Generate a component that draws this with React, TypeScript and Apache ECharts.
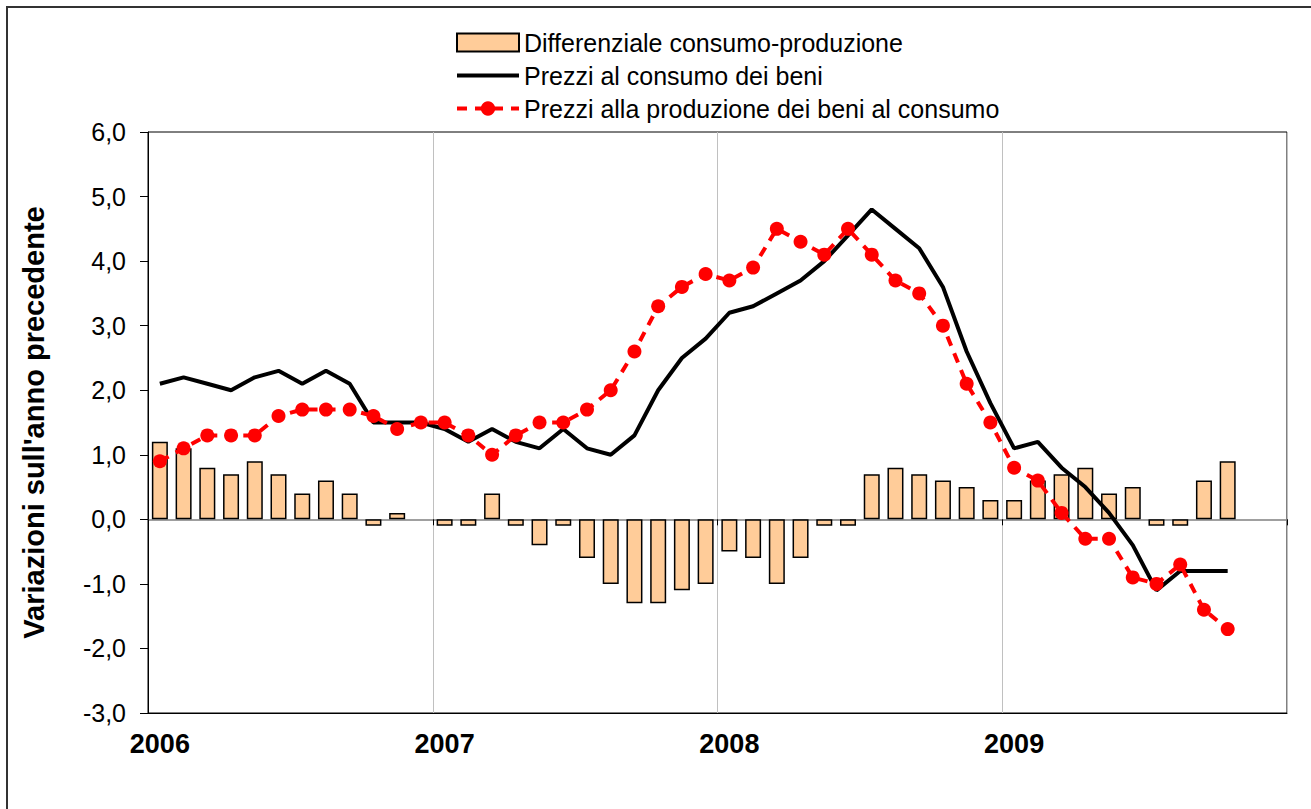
import React, { useEffect, useRef } from "react";
import * as echarts from "echarts";

const years = ["2006", "2007", "2008", "2009"];
const months = ["01", "02", "03", "04", "05", "06", "07", "08", "09", "10", "11", "12"];
const categories: string[] = [];
years.forEach((y) => months.forEach((m) => categories.push(y + "-" + m)));

const yTicks = [-3, -2, -1, 0, 1, 2, 3, 4, 5, 6];

const differenziale = [
  1.2, 1.1, 0.8, 0.7, 0.9, 0.7, 0.4, 0.6, 0.4, -0.1, 0.1, 0.0,
  -0.1, -0.1, 0.4, -0.1, -0.4, -0.1, -0.6, -1.0, -1.3, -1.3, -1.1, -1.0,
  -0.5, -0.6, -1.0, -0.6, -0.1, -0.1, 0.7, 0.8, 0.7, 0.6, 0.5, 0.3,
  0.3, 0.6, 0.7, 0.8, 0.4, 0.5, -0.1, -0.1, 0.6, 0.9,
];

const consumo = [
  2.1, 2.2, 2.1, 2.0, 2.2, 2.3, 2.1, 2.3, 2.1, 1.5, 1.5, 1.5,
  1.4, 1.2, 1.4, 1.2, 1.1, 1.4, 1.1, 1.0, 1.3, 2.0, 2.5, 2.8,
  3.2, 3.3, 3.5, 3.7, 4.0, 4.4, 4.8, 4.5, 4.2, 3.6, 2.6, 1.8,
  1.1, 1.2, 0.8, 0.5, 0.1, -0.4, -1.1, -0.8, -0.8, -0.8,
];

const produzione = [
  0.9, 1.1, 1.3, 1.3, 1.3, 1.6, 1.7, 1.7, 1.7, 1.6, 1.4, 1.5,
  1.5, 1.3, 1.0, 1.3, 1.5, 1.5, 1.7, 2.0, 2.6, 3.3, 3.6, 3.8,
  3.7, 3.9, 4.5, 4.3, 4.1, 4.5, 4.1, 3.7, 3.5, 3.0, 2.1, 1.5,
  0.8, 0.6, 0.1, -0.3, -0.3, -0.9, -1.0, -0.7, -1.4, -1.7,
];

const FONT = "'Liberation Sans', Arial, sans-serif";

export default function App() {
  const ref = useRef<HTMLDivElement>(null);
  useEffect(() => {
    if (!ref.current) return;
    const chart = echarts.init(ref.current, null, { renderer: "svg" });
    const yearStart = (i: number) => i % 12 === 0;
    const barData = differenziale.map((v) =>
      v === 0 ? { value: v, itemStyle: { borderWidth: 0 } } : v
    );
    chart.setOption({
      animation: false,
      backgroundColor: "#ffffff",
      textStyle: { fontFamily: FONT },
      graphic: [
        {
          type: "rect",
          shape: { x: 7, y: 7, width: 1320, height: 820 },
          style: { fill: "none", stroke: "#333333", lineWidth: 2 },
          silent: true,
          z: 0,
        },
      ],
      legend: {
        orient: "vertical",
        left: 450,
        top: 25,
        itemWidth: 62,
        itemHeight: 18,
        itemGap: 8,
        textStyle: { fontSize: 25, color: "#000", fontFamily: FONT, lineHeight: 25 },
        data: [
          { name: "Differenziale consumo-produzione", icon: "rect" },
          {
            name: "Prezzi al consumo dei beni",
            itemStyle: { opacity: 0 },
            lineStyle: { width: 4, color: "#000", type: "solid" },
          },
          {
            name: "Prezzi alla produzione dei beni al consumo",
            lineStyle: { width: 4, color: "#FF0000", type: [10, 8] },
          },
        ],
      },
      grid: {
        left: 148,
        top: 132,
        width: 1139,
        height: 581,
        show: true,
        borderColor: "#000",
        borderWidth: 1,
        backgroundColor: "transparent",
      },
      xAxis: [
        {
          type: "category",
          data: categories,
          boundaryGap: true,
          position: "bottom",
          axisLine: { onZero: false, lineStyle: { color: "#000", width: 1 } },
          axisTick: { show: false },
          axisLabel: {
            interval: (i: number) => yearStart(i),
            formatter: (v: string) => v.slice(0, 4),
            fontSize: 27,
            fontWeight: "bold",
            color: "#000",
            margin: 17,
            fontFamily: FONT,
          },
          splitLine: {
            show: true,
            interval: (i: number) => yearStart(i),
            lineStyle: { color: "#c0c0c0", width: 1 },
          },
        },
        {
          type: "category",
          data: categories,
          boundaryGap: true,
          position: "bottom",
          axisLine: { onZero: true, lineStyle: { color: "#808080", width: 1.5 } },
          axisTick: {
            show: true,
            interval: (i: number) => yearStart(i),
            length: 6,
            lineStyle: { color: "#000", width: 1 },
          },
          axisLabel: { show: false },
          splitLine: { show: false },
        },
      ],
      yAxis: {
        type: "value",
        min: yTicks[0],
        max: yTicks[yTicks.length - 1],
        interval: 1,
        name: "Variazioni sull'anno precedente",
        nameLocation: "middle",
        nameGap: 100,
        nameRotate: 90,
        nameTextStyle: { fontSize: 29, fontWeight: "bold", color: "#000", fontFamily: FONT },
        axisLine: { show: true, lineStyle: { color: "#000", width: 1 } },
        axisTick: { show: true, length: 8, lineStyle: { color: "#000" } },
        axisLabel: {
          fontSize: 25,
          color: "#000",
          margin: 22,
          fontFamily: FONT,
          formatter: (v: number) => v.toFixed(1).replace(".", ","),
        },
        splitLine: { show: false },
      },
      series: [
        {
          name: "Differenziale consumo-produzione",
          type: "bar",
          xAxisIndex: 1,
          data: barData,
          barWidth: 16,
          itemStyle: { color: "#FFCC99", borderColor: "#000", borderWidth: 1.5 },
          z: 2,
        },
        {
          name: "Prezzi al consumo dei beni",
          type: "line",
          xAxisIndex: 0,
          data: consumo,
          symbol: "none",
          lineStyle: { color: "#000", width: 4 },
          itemStyle: { color: "#000" },
          z: 3,
        },
        {
          name: "Prezzi alla produzione dei beni al consumo",
          type: "line",
          xAxisIndex: 0,
          data: produzione,
          symbol: "circle",
          symbolSize: 14,
          lineStyle: { color: "#FF0000", width: 4, type: [10, 8] },
          itemStyle: { color: "#FF0000", borderWidth: 0 },
          z: 4,
        },
      ],
    });
    return () => chart.dispose();
  }, []);
  return (
    <div
      ref={ref}
      style={{ position: "absolute", left: 0, top: 0, width: 1311, height: 809 }}
    />
  );
}
